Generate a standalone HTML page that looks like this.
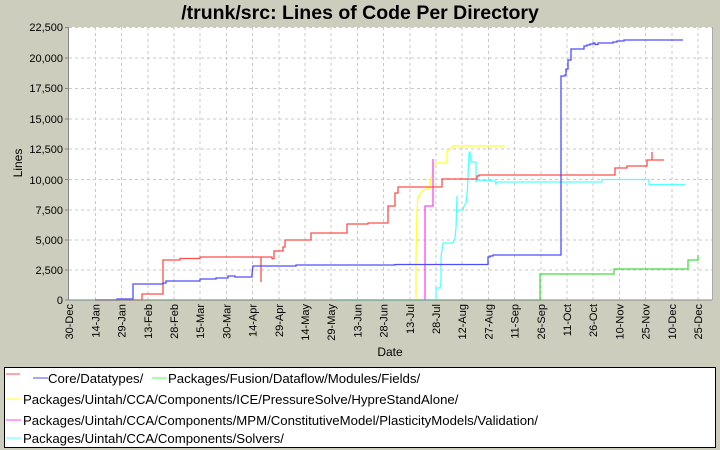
<!DOCTYPE html>
<html><head><meta charset="utf-8"><style>
body{margin:0;background:#cdcdbe;}
svg{display:block;font-family:"Liberation Sans",sans-serif;}
</style></head><body>
<svg width="720" height="450" xmlns="http://www.w3.org/2000/svg">
<rect width="720" height="450" fill="#cdcdbe"/>
<text x="360" y="19" text-anchor="middle" font-size="19.5" font-weight="bold">/trunk/src: Lines of Code Per Directory</text>
<rect x="69" y="27" width="643" height="273" fill="#fff"/>
<g stroke="#c8c8c8" stroke-dasharray="3,3" stroke-width="1">
<line x1="69" x2="712" y1="27.5" y2="27.5"/><line x1="69" x2="712" y1="58" y2="58"/><line x1="69" x2="712" y1="88.5" y2="88.5"/><line x1="69" x2="712" y1="119" y2="119"/><line x1="69" x2="712" y1="149" y2="149"/><line x1="69" x2="712" y1="179.5" y2="179.5"/><line x1="69" x2="712" y1="210" y2="210"/><line x1="69" x2="712" y1="240" y2="240"/><line x1="69" x2="712" y1="270" y2="270"/>
<line y1="27" y2="300" x1="95.5" x2="95.5"/><line y1="27" y2="300" x1="121.5" x2="121.5"/><line y1="27" y2="300" x1="148" x2="148"/><line y1="27" y2="300" x1="174" x2="174"/><line y1="27" y2="300" x1="200" x2="200"/><line y1="27" y2="300" x1="226.5" x2="226.5"/><line y1="27" y2="300" x1="252.5" x2="252.5"/><line y1="27" y2="300" x1="279" x2="279"/><line y1="27" y2="300" x1="305" x2="305"/><line y1="27" y2="300" x1="331" x2="331"/><line y1="27" y2="300" x1="357.5" x2="357.5"/><line y1="27" y2="300" x1="383.5" x2="383.5"/><line y1="27" y2="300" x1="410" x2="410"/><line y1="27" y2="300" x1="436" x2="436"/><line y1="27" y2="300" x1="462" x2="462"/><line y1="27" y2="300" x1="488.5" x2="488.5"/><line y1="27" y2="300" x1="514.5" x2="514.5"/><line y1="27" y2="300" x1="541" x2="541"/><line y1="27" y2="300" x1="567" x2="567"/><line y1="27" y2="300" x1="593" x2="593"/><line y1="27" y2="300" x1="619.5" x2="619.5"/><line y1="27" y2="300" x1="645.5" x2="645.5"/><line y1="27" y2="300" x1="672" x2="672"/><line y1="27" y2="300" x1="698" x2="698"/>
</g>
<g fill="none" stroke-width="1.3">
<polyline stroke="#44dd44" points="95,300 540,300 540,274 614,274 614,269 688,269 688,260 698,260 698,255"/>
<polyline stroke="#55ffff" points="69,300 93,300"/>
<polyline stroke="#55ffff" points="338,300 436,300 436,288 440,288 441,283 441,257 443,243 453,243 455,238 456,228 457,196 457,213 458,210 463,210 464,206 466,203 467,195 468,179 469,153 470,152 471,162 476,162 476,182 477,180 495,181 496,184 497,182 500,182 602,182 602,179.5 649,179.5 649,184.5 685,184.5"/>
<polyline stroke="#ffff33" points="416,300 416,257 417,210 418,197 420,195 423,190 430,188 431,178 433,172 434,164 437,163 447,163 447,151 450,149 453,146 505,146"/>
<polyline stroke="#ff44ff" points="425,300 425,206 433,206 433,159"/>
<polyline stroke="#ff4d4d" points="95,300 142,300 142,294 163,294 163,260 180,260 180,258.5 200,258.5 200,257 261,257 261,282 261,257 272,257 272,258.6 274,258.6 274,251 283,251 283,247 285,247 285,240 311,240 311,233 347,233 347,224 368,224 368,223 388,223 388,206 395,206 395,193 398,193 398,187 442,187 442,179 477,179 477,176 479,176 479,175 615,175 615,168 627,168 627,166 647,166 647,160 652,160 652,152 652,160 664,160"/>
<polyline stroke="#4d4dff" points="95,300 117,300 117,299 133,299 133,284 163,284 163,283 166,283 166,281 200,281 200,279 216,279 216,278 228,278 228,276 235,276 235,277 252,277 252,274 253,266 296,266 296,265 395,265 395,264.5 488,264.5 488,257 490,257 490,256 493,256 493,255 561,255 561,76 565,76 565,75 566,75 566,69 568,69 568,60 571,60 571,49 584,49 584,46 587,46 587,45 590,45 590,44 593,44 593,43 595,43 595,44.5 598,44.5 598,43 613,43 613,42 617,42 617,41 624,41 624,40 683,40"/>
</g>
<line x1="69" x2="712" y1="300" y2="300" stroke="#888"/>
<line x1="68.5" x2="68.5" y1="27" y2="300" stroke="#888"/>
<line x1="712.5" x2="712.5" y1="27" y2="300" stroke="#aaa"/>
<g font-size="11" text-anchor="end">
<text x="63" y="31">22,500</text><text x="63" y="62">20,000</text><text x="63" y="92">17,500</text><text x="63" y="123">15,000</text><text x="63" y="153">12,500</text><text x="63" y="184">10,000</text><text x="63" y="214">7,500</text><text x="63" y="244">5,000</text><text x="63" y="274">2,500</text><text x="63" y="304">0</text>
</g>
<g stroke="#888"><line x1="65" x2="69" y1="27.5" y2="27.5"/><line x1="65" x2="69" y1="58" y2="58"/><line x1="65" x2="69" y1="88.5" y2="88.5"/><line x1="65" x2="69" y1="119" y2="119"/><line x1="65" x2="69" y1="149" y2="149"/><line x1="65" x2="69" y1="179.5" y2="179.5"/><line x1="65" x2="69" y1="210" y2="210"/><line x1="65" x2="69" y1="240" y2="240"/><line x1="65" x2="69" y1="270" y2="270"/><line x1="65" x2="69" y1="300" y2="300"/></g>
<g font-size="11" text-anchor="end">
<text transform="translate(73,304) rotate(-90)">30-Dec</text>
<text transform="translate(99.5,304) rotate(-90)">14-Jan</text>
<text transform="translate(125.5,304) rotate(-90)">29-Jan</text>
<text transform="translate(152,304) rotate(-90)">13-Feb</text>
<text transform="translate(178,304) rotate(-90)">28-Feb</text>
<text transform="translate(204,304) rotate(-90)">15-Mar</text>
<text transform="translate(230.5,304) rotate(-90)">30-Mar</text>
<text transform="translate(256.5,304) rotate(-90)">14-Apr</text>
<text transform="translate(283,304) rotate(-90)">29-Apr</text>
<text transform="translate(309,304) rotate(-90)">14-May</text>
<text transform="translate(335,304) rotate(-90)">29-May</text>
<text transform="translate(361.5,304) rotate(-90)">13-Jun</text>
<text transform="translate(387.5,304) rotate(-90)">28-Jun</text>
<text transform="translate(414,304) rotate(-90)">13-Jul</text>
<text transform="translate(440,304) rotate(-90)">28-Jul</text>
<text transform="translate(466,304) rotate(-90)">12-Aug</text>
<text transform="translate(492.5,304) rotate(-90)">27-Aug</text>
<text transform="translate(518.5,304) rotate(-90)">11-Sep</text>
<text transform="translate(545,304) rotate(-90)">26-Sep</text>
<text transform="translate(571,304) rotate(-90)">11-Oct</text>
<text transform="translate(597,304) rotate(-90)">26-Oct</text>
<text transform="translate(623.5,304) rotate(-90)">10-Nov</text>
<text transform="translate(649.5,304) rotate(-90)">25-Nov</text>
<text transform="translate(676,304) rotate(-90)">10-Dec</text>
<text transform="translate(702,304) rotate(-90)">25-Dec</text>
</g>
<text x="390" y="356" font-size="12" text-anchor="middle">Date</text>
<text transform="translate(22,163) rotate(-90)" font-size="12" text-anchor="middle">Lines</text>
<rect x="4.5" y="367.5" width="711" height="80" fill="#fff" stroke="#000"/>
<g font-size="13.2">
<line x1="6" x2="20" y1="374" y2="374" stroke="#ff4d4d"/>
<line x1="33" x2="48" y1="378" y2="378" stroke="#4d4dff"/>
<text x="48" y="383">Core/Datatypes/</text>
<line x1="152" x2="167" y1="378" y2="378" stroke="#55ff55"/>
<text x="168" y="383">Packages/Fusion/Dataflow/Modules/Fields/</text>
<line x1="6" x2="21" y1="399" y2="399" stroke="#ffff33"/>
<text x="23" y="404">Packages/Uintah/CCA/Components/ICE/PressureSolve/HypreStandAlone/</text>
<line x1="6" x2="21" y1="420" y2="420" stroke="#ff44ff"/>
<text x="23" y="425">Packages/Uintah/CCA/Components/MPM/ConstitutiveModel/PlasticityModels/Validation/</text>
<line x1="6" x2="21" y1="438" y2="438" stroke="#55ffff"/>
<text x="23" y="443">Packages/Uintah/CCA/Components/Solvers/</text>
</g>
</svg>
</body></html>
